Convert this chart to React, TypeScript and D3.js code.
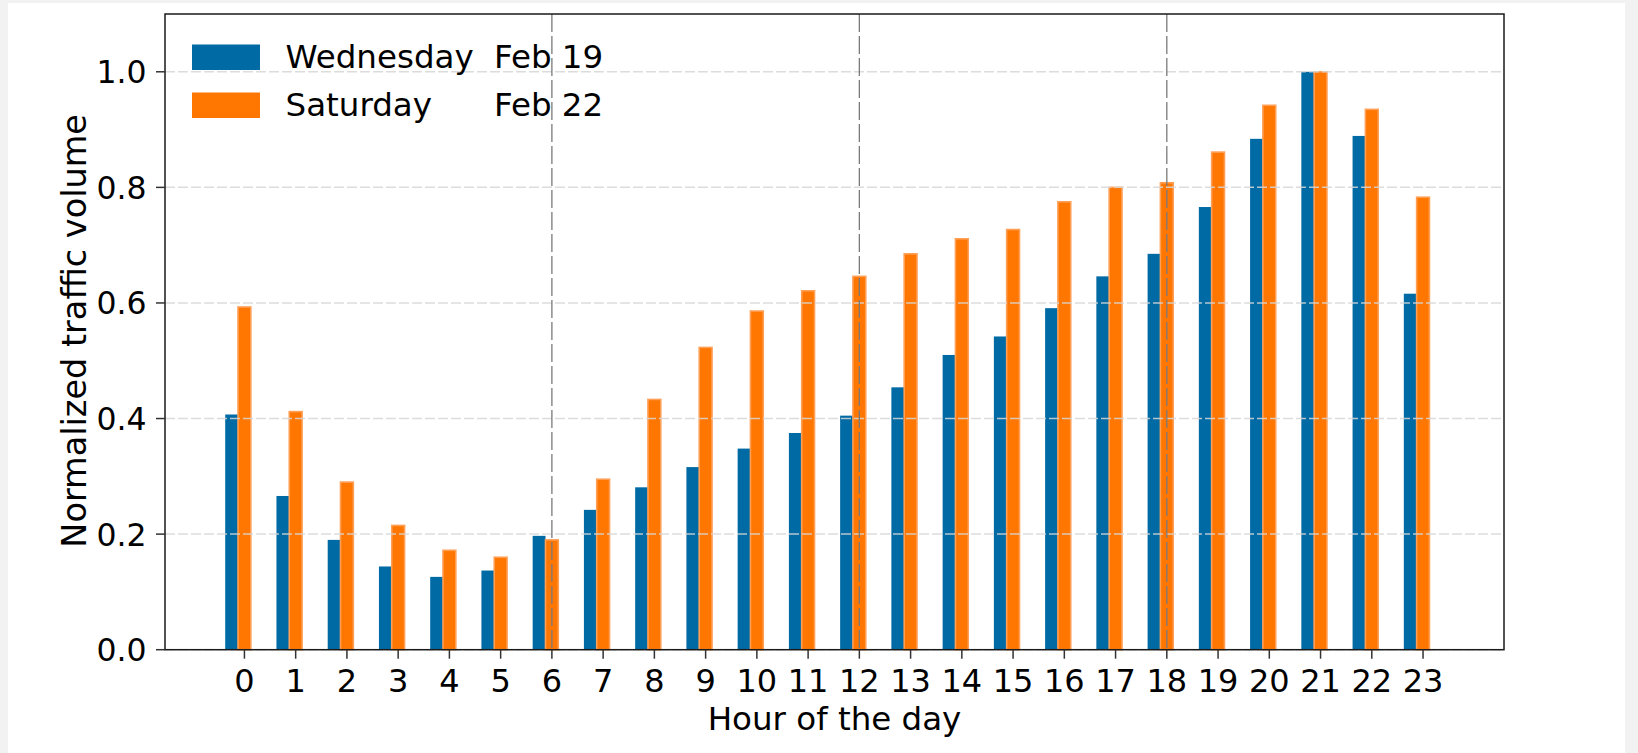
import React from "react";
import * as d3 from "d3";

const hours = [0, 1, 2, 3, 4, 5, 6, 7, 8, 9, 10, 11, 12, 13, 14, 15, 16, 17, 18, 19, 20, 21, 22, 23];
const wednesday = [0.407, 0.266, 0.19, 0.144, 0.126, 0.137, 0.197, 0.242, 0.281, 0.316, 0.348, 0.375, 0.405, 0.454, 0.51, 0.542, 0.591, 0.646, 0.685, 0.766, 0.884, 1.0, 0.889, 0.616];
const saturday = [0.593, 0.412, 0.29, 0.215, 0.172, 0.16, 0.19, 0.295, 0.433, 0.523, 0.586, 0.621, 0.646, 0.685, 0.711, 0.727, 0.775, 0.8, 0.808, 0.861, 0.942, 1.0, 0.935, 0.783];
const yTicks = [0, 0.2, 0.4, 0.6, 0.8, 1.0];
const markerHours = [6, 12, 18];
const seriesNames = [
  { day: "Wednesday", date: "Feb 19", color: "#006aa5" },
  { day: "Saturday", date: "Feb 22", color: "#ff7700" },
];

const W = 1638;
const H = 753;
const left = 165;
const right = 1504;
const top = 14;
const bottom = 649.7;
const FONT = "'DejaVu Sans', sans-serif";

export default function App() {
  const x = d3.scaleLinear().domain([-1.55, 24.58]).range([left, right]);
  const y = d3.scaleLinear().domain([0, 1.1]).range([bottom, top]);
  const bw = 0.25;

  return (
    <svg
      width={W}
      height={H}
      style={{ position: "absolute", left: 0, top: 0, display: "block" }}
    >
      <rect x={0} y={0} width={W} height={H} fill="#f2f2f2" />
      <rect x={8} y={3} width={1617} height={H - 3} fill="#ffffff" />

      {/* bars */}
      {hours.map((h, i) => (
        <rect
          key={"w" + h}
          x={x(h - 1.5 * bw)}
          y={y(wednesday[i])}
          width={x(h - 0.5 * bw) - x(h - 1.5 * bw)}
          height={bottom - y(wednesday[i])}
          fill={seriesNames[0].color}
        />
      ))}
      {hours.map((h, i) => (
        <rect
          key={"s" + h}
          x={x(h - 0.5 * bw)}
          y={y(saturday[i])}
          width={x(h + 0.5 * bw) - x(h - 0.5 * bw)}
          height={bottom - y(saturday[i])}
          fill={seriesNames[1].color}
          stroke="#ff9e55"
          strokeWidth={1.6}
        />
      ))}

      {/* horizontal grid */}
      {yTicks.map((t) => (
        <line
          key={"g" + t}
          x1={left}
          x2={right}
          y1={y(t)}
          y2={y(t)}
          stroke="#d6d6d6"
          strokeOpacity={0.85}
          strokeWidth={1.5}
          strokeDasharray="10,3"
        />
      ))}

      {/* vertical markers */}
      {markerHours.map((h) => (
        <line
          key={"v" + h}
          x1={x(h)}
          x2={x(h)}
          y1={top}
          y2={bottom}
          stroke="#7a7a7a"
          strokeWidth={1.3}
          strokeDasharray="18,4"
        />
      ))}

      {/* axes frame */}
      <rect
        x={left}
        y={top}
        width={right - left}
        height={bottom - top}
        fill="none"
        stroke="#1a1a1a"
        strokeWidth={1.5}
      />

      {/* y ticks */}
      {yTicks.map((t) => (
        <g key={"yt" + t}>
          <line x1={left - 9} x2={left} y1={y(t)} y2={y(t)} stroke="#333" strokeWidth={1.5} />
          <text
            x={146.5}
            y={y(t) + 11.5}
            textAnchor="end"
            fontFamily={FONT}
            fontSize={31.5}
            fill="#000"
          >
            {t.toFixed(1)}
          </text>
        </g>
      ))}

      {/* x ticks */}
      {hours.map((h) => (
        <g key={"xt" + h}>
          <line x1={x(h)} x2={x(h)} y1={bottom} y2={bottom + 9} stroke="#333" strokeWidth={1.5} />
          <text
            x={x(h)}
            y={691.5}
            textAnchor="middle"
            fontFamily={FONT}
            fontSize={32}
            fill="#000"
          >
            {String(h)}
          </text>
        </g>
      ))}

      {/* axis labels */}
      <text
        x={(left + right) / 2}
        y={730}
        textAnchor="middle"
        fontFamily={FONT}
        fontSize={32.5}
        fill="#000"
      >
        Hour of the day
      </text>
      <text
        transform={`translate(86, ${(top + bottom) / 2 - 1}) rotate(-90)`}
        textAnchor="middle"
        fontFamily={FONT}
        fontSize={33.5}
        fill="#000"
      >
        Normalized traffic volume
      </text>

      {/* legend */}
      {seriesNames.map((s, i) => (
        <g key={"lg" + i} transform={`translate(0, ${i * 48})`}>
          <rect x={192} y={44.5} width={68} height={25.5} fill={s.color} />
          <text x={285.5} y={67.5} fontFamily={FONT} fontSize={32.5} fill="#000">
            {s.day}
          </text>
          <text x={494} y={67.5} fontFamily={FONT} fontSize={32.5} fill="#000">
            {s.date}
          </text>
        </g>
      ))}
    </svg>
  );
}
